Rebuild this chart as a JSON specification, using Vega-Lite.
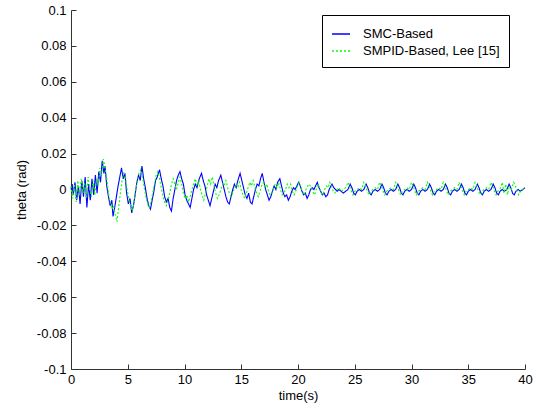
{
"$schema": "https://vega.github.io/schema/vega-lite/v6.json",
"width": 454, "height": 359,
"autosize": {"type": "none"},
"padding": {"left": 71, "top": 10, "right": 11, "bottom": 45},
"background": "white",
"config": {
 "view": {"stroke": null},
 "font": "Liberation Sans",
 "axis": {"domainColor": "#333333", "tickColor": "#333333", "tickSize": -5, "labelFontSize": 13, "titleFontSize": 13, "labelColor": "black", "titleColor": "black", "titleFontWeight": "normal", "grid": false, "labelFont": "Liberation Sans", "titleFont": "Liberation Sans"},
 "legend": {"orient": "none", "legendX": 251, "legendY": 5, "title": null, "padding": 9, "strokeColor": "black", "fillColor": "white", "symbolType": "stroke", "symbolSize": 324, "symbolStrokeWidth": 1.3, "labelFontSize": 13, "labelFont": "Liberation Sans", "labelColor": "black", "labelOffset": 12, "rowPadding": -2}
},
"data": {"values": [
{"t":0,"v":0,"s":"SMC-Based"},{"t":0.1,"v":0.003,"s":"SMC-Based"},{"t":0.2,"v":-0.003,"s":"SMC-Based"},{"t":0.35,"v":0.004,"s":"SMC-Based"},{"t":0.5,"v":-0.006,"s":"SMC-Based"},{"t":0.65,"v":0.002,"s":"SMC-Based"},{"t":0.8,"v":-0.008,"s":"SMC-Based"},{"t":0.95,"v":0.005,"s":"SMC-Based"},{"t":1.1,"v":-0.004,"s":"SMC-Based"},{"t":1.25,"v":0.007,"s":"SMC-Based"},{"t":1.4,"v":-0.01,"s":"SMC-Based"},{"t":1.55,"v":0.003,"s":"SMC-Based"},{"t":1.7,"v":-0.006,"s":"SMC-Based"},{"t":1.85,"v":0.006,"s":"SMC-Based"},{"t":2.0,"v":-0.003,"s":"SMC-Based"},{"t":2.15,"v":0.008,"s":"SMC-Based"},{"t":2.3,"v":-0.002,"s":"SMC-Based"},{"t":2.45,"v":0.01,"s":"SMC-Based"},{"t":2.6,"v":0.004,"s":"SMC-Based"},{"t":2.75,"v":0.016,"s":"SMC-Based"},{"t":2.9,"v":0.009,"s":"SMC-Based"},{"t":3.0,"v":0.013,"s":"SMC-Based"},{"t":3.15,"v":0.002,"s":"SMC-Based"},{"t":3.3,"v":-0.004,"s":"SMC-Based"},{"t":3.45,"v":-0.009,"s":"SMC-Based"},{"t":3.6,"v":-0.006,"s":"SMC-Based"},{"t":3.7,"v":-0.015,"s":"SMC-Based"},{"t":3.85,"v":-0.01,"s":"SMC-Based"},{"t":4.0,"v":-0.004,"s":"SMC-Based"},{"t":4.15,"v":0.002,"s":"SMC-Based"},{"t":4.3,"v":0.007,"s":"SMC-Based"},{"t":4.45,"v":0.012,"s":"SMC-Based"},{"t":4.6,"v":0.006,"s":"SMC-Based"},{"t":4.75,"v":0.009,"s":"SMC-Based"},{"t":4.9,"v":-0.002,"s":"SMC-Based"},{"t":5.05,"v":-0.008,"s":"SMC-Based"},{"t":5.2,"v":-0.005,"s":"SMC-Based"},{"t":5.35,"v":-0.013,"s":"SMC-Based"},{"t":5.5,"v":-0.009,"s":"SMC-Based"},{"t":5.65,"v":-0.003,"s":"SMC-Based"},{"t":5.8,"v":0.004,"s":"SMC-Based"},{"t":5.95,"v":0.008,"s":"SMC-Based"},{"t":6.1,"v":0.005,"s":"SMC-Based"},{"t":6.25,"v":0.013,"s":"SMC-Based"},{"t":6.4,"v":0.006,"s":"SMC-Based"},{"t":6.55,"v":0.001,"s":"SMC-Based"},{"t":6.7,"v":-0.005,"s":"SMC-Based"},{"t":6.85,"v":-0.009,"s":"SMC-Based"},{"t":7.0,"v":-0.011,"s":"SMC-Based"},{"t":7.15,"v":-0.006,"s":"SMC-Based"},{"t":7.3,"v":-0.001,"s":"SMC-Based"},{"t":7.45,"v":0.005,"s":"SMC-Based"},{"t":7.6,"v":0.007,"s":"SMC-Based"},{"t":7.8,"v":0.011,"s":"SMC-Based"},{"t":7.95,"v":0.006,"s":"SMC-Based"},{"t":8.1,"v":0.002,"s":"SMC-Based"},{"t":8.25,"v":-0.004,"s":"SMC-Based"},{"t":8.4,"v":-0.007,"s":"SMC-Based"},{"t":8.55,"v":-0.005,"s":"SMC-Based"},{"t":8.7,"v":-0.01,"s":"SMC-Based"},{"t":8.85,"v":-0.012,"s":"SMC-Based"},{"t":9.0,"v":-0.005,"s":"SMC-Based"},{"t":9.15,"v":0,"s":"SMC-Based"},{"t":9.3,"v":0.005,"s":"SMC-Based"},{"t":9.45,"v":0.008,"s":"SMC-Based"},{"t":9.6,"v":0.01,"s":"SMC-Based"},{"t":9.75,"v":0.006,"s":"SMC-Based"},{"t":9.9,"v":0.003,"s":"SMC-Based"},{"t":10.05,"v":-0.003,"s":"SMC-Based"},{"t":10.2,"v":-0.006,"s":"SMC-Based"},{"t":10.35,"v":-0.008,"s":"SMC-Based"},{"t":10.5,"v":-0.01,"s":"SMC-Based"},{"t":10.65,"v":-0.005,"s":"SMC-Based"},{"t":10.8,"v":0,"s":"SMC-Based"},{"t":10.95,"v":0.003,"s":"SMC-Based"},{"t":11.1,"v":0.001,"s":"SMC-Based"},{"t":11.3,"v":0.006,"s":"SMC-Based"},{"t":11.5,"v":0.009,"s":"SMC-Based"},{"t":11.65,"v":0.005,"s":"SMC-Based"},{"t":11.8,"v":0.002,"s":"SMC-Based"},{"t":11.95,"v":-0.003,"s":"SMC-Based"},{"t":12.1,"v":-0.006,"s":"SMC-Based"},{"t":12.25,"v":-0.009,"s":"SMC-Based"},{"t":12.4,"v":-0.005,"s":"SMC-Based"},{"t":12.55,"v":-0.001,"s":"SMC-Based"},{"t":12.7,"v":0.003,"s":"SMC-Based"},{"t":12.85,"v":0.001,"s":"SMC-Based"},{"t":13.0,"v":0.005,"s":"SMC-Based"},{"t":13.2,"v":0.008,"s":"SMC-Based"},{"t":13.35,"v":0.004,"s":"SMC-Based"},{"t":13.5,"v":0,"s":"SMC-Based"},{"t":13.65,"v":-0.004,"s":"SMC-Based"},{"t":13.8,"v":-0.007,"s":"SMC-Based"},{"t":13.95,"v":-0.008,"s":"SMC-Based"},{"t":14.1,"v":-0.004,"s":"SMC-Based"},{"t":14.25,"v":0,"s":"SMC-Based"},{"t":14.4,"v":0.003,"s":"SMC-Based"},{"t":14.55,"v":0.001,"s":"SMC-Based"},{"t":14.7,"v":0.005,"s":"SMC-Based"},{"t":14.9,"v":0.009,"s":"SMC-Based"},{"t":15.05,"v":0.005,"s":"SMC-Based"},{"t":15.2,"v":0.001,"s":"SMC-Based"},{"t":15.35,"v":-0.003,"s":"SMC-Based"},{"t":15.5,"v":-0.005,"s":"SMC-Based"},{"t":15.65,"v":-0.002,"s":"SMC-Based"},{"t":15.8,"v":-0.007,"s":"SMC-Based"},{"t":15.95,"v":-0.008,"s":"SMC-Based"},{"t":16.1,"v":-0.004,"s":"SMC-Based"},{"t":16.25,"v":0,"s":"SMC-Based"},{"t":16.4,"v":0.003,"s":"SMC-Based"},{"t":16.55,"v":0.002,"s":"SMC-Based"},{"t":16.7,"v":0.006,"s":"SMC-Based"},{"t":16.85,"v":0.009,"s":"SMC-Based"},{"t":17.0,"v":0.004,"s":"SMC-Based"},{"t":17.15,"v":0,"s":"SMC-Based"},{"t":17.3,"v":-0.003,"s":"SMC-Based"},{"t":17.45,"v":-0.006,"s":"SMC-Based"},{"t":17.6,"v":-0.004,"s":"SMC-Based"},{"t":17.75,"v":-0.001,"s":"SMC-Based"},{"t":17.9,"v":0.002,"s":"SMC-Based"},{"t":18.05,"v":0,"s":"SMC-Based"},{"t":18.2,"v":0.004,"s":"SMC-Based"},{"t":18.4,"v":0.006,"s":"SMC-Based"},{"t":18.55,"v":0.002,"s":"SMC-Based"},{"t":18.7,"v":-0.002,"s":"SMC-Based"},{"t":18.85,"v":-0.004,"s":"SMC-Based"},{"t":19.0,"v":-0.003,"s":"SMC-Based"},{"t":19.15,"v":-0.006,"s":"SMC-Based"},{"t":19.3,"v":-0.004,"s":"SMC-Based"},{"t":19.45,"v":-0.001,"s":"SMC-Based"},{"t":19.6,"v":0.001,"s":"SMC-Based"},{"t":19.75,"v":0,"s":"SMC-Based"},{"t":19.9,"v":0.002,"s":"SMC-Based"},{"t":20.05,"v":0.004,"s":"SMC-Based"},{"t":20.2,"v":0.002,"s":"SMC-Based"},{"t":20.35,"v":-0.001,"s":"SMC-Based"},{"t":20.5,"v":-0.003,"s":"SMC-Based"},{"t":20.65,"v":-0.002,"s":"SMC-Based"},{"t":20.8,"v":-0.005,"s":"SMC-Based"},{"t":20.95,"v":-0.003,"s":"SMC-Based"},{"t":21.1,"v":0,"s":"SMC-Based"},{"t":21.25,"v":0.001,"s":"SMC-Based"},{"t":21.4,"v":0,"s":"SMC-Based"},{"t":21.55,"v":0.002,"s":"SMC-Based"},{"t":21.7,"v":0.004,"s":"SMC-Based"},{"t":21.85,"v":0.001,"s":"SMC-Based"},{"t":22.0,"v":-0.001,"s":"SMC-Based"},{"t":22.15,"v":-0.003,"s":"SMC-Based"},{"t":22.3,"v":-0.002,"s":"SMC-Based"},{"t":22.45,"v":-0.004,"s":"SMC-Based"},{"t":22.6,"v":-0.003,"s":"SMC-Based"},{"t":22.75,"v":0,"s":"SMC-Based"},{"t":22.9,"v":0.002,"s":"SMC-Based"},{"t":23.0,"v":0.003,"s":"SMC-Based"},{"t":23.15,"v":0.001,"s":"SMC-Based"},{"t":23.3,"v":0,"s":"SMC-Based"},{"t":23.45,"v":-0.001,"s":"SMC-Based"},{"t":23.6,"v":0,"s":"SMC-Based"},{"t":23.8,"v":-0.001,"s":"SMC-Based"},{"t":24.0,"v":-0.002,"s":"SMC-Based"},{"t":24.2,"v":-0.001,"s":"SMC-Based"},{"t":24.4,"v":0,"s":"SMC-Based"},{"t":24.6,"v":0.003,"s":"SMC-Based"},{"t":24.75,"v":0.001,"s":"SMC-Based"},{"t":24.9,"v":-0.002,"s":"SMC-Based"},{"t":25.05,"v":-0.003,"s":"SMC-Based"},{"t":25.2,"v":-0.001,"s":"SMC-Based"},{"t":25.4,"v":0,"s":"SMC-Based"},{"t":25.6,"v":-0.001,"s":"SMC-Based"},{"t":25.8,"v":0,"s":"SMC-Based"},{"t":26.0,"v":0.003,"s":"SMC-Based"},{"t":26.15,"v":0.001,"s":"SMC-Based"},{"t":26.3,"v":-0.002,"s":"SMC-Based"},{"t":26.45,"v":-0.003,"s":"SMC-Based"},{"t":26.6,"v":-0.001,"s":"SMC-Based"},{"t":26.8,"v":0,"s":"SMC-Based"},{"t":27.0,"v":-0.001,"s":"SMC-Based"},{"t":27.2,"v":0,"s":"SMC-Based"},{"t":27.4,"v":0.003,"s":"SMC-Based"},{"t":27.55,"v":0.001,"s":"SMC-Based"},{"t":27.7,"v":-0.002,"s":"SMC-Based"},{"t":27.85,"v":-0.003,"s":"SMC-Based"},{"t":28.0,"v":-0.001,"s":"SMC-Based"},{"t":28.2,"v":0,"s":"SMC-Based"},{"t":28.4,"v":-0.001,"s":"SMC-Based"},{"t":28.6,"v":0,"s":"SMC-Based"},{"t":28.8,"v":0.003,"s":"SMC-Based"},{"t":28.95,"v":0.001,"s":"SMC-Based"},{"t":29.1,"v":-0.002,"s":"SMC-Based"},{"t":29.25,"v":-0.003,"s":"SMC-Based"},{"t":29.4,"v":-0.001,"s":"SMC-Based"},{"t":29.6,"v":0,"s":"SMC-Based"},{"t":29.8,"v":-0.001,"s":"SMC-Based"},{"t":30.0,"v":0,"s":"SMC-Based"},{"t":30.2,"v":0.003,"s":"SMC-Based"},{"t":30.35,"v":0.001,"s":"SMC-Based"},{"t":30.5,"v":-0.002,"s":"SMC-Based"},{"t":30.65,"v":-0.003,"s":"SMC-Based"},{"t":30.8,"v":-0.001,"s":"SMC-Based"},{"t":31.0,"v":0,"s":"SMC-Based"},{"t":31.2,"v":-0.001,"s":"SMC-Based"},{"t":31.4,"v":0,"s":"SMC-Based"},{"t":31.6,"v":0.003,"s":"SMC-Based"},{"t":31.75,"v":0.001,"s":"SMC-Based"},{"t":31.9,"v":-0.002,"s":"SMC-Based"},{"t":32.05,"v":-0.003,"s":"SMC-Based"},{"t":32.2,"v":-0.001,"s":"SMC-Based"},{"t":32.4,"v":0,"s":"SMC-Based"},{"t":32.6,"v":-0.001,"s":"SMC-Based"},{"t":32.8,"v":0,"s":"SMC-Based"},{"t":33.0,"v":0.003,"s":"SMC-Based"},{"t":33.15,"v":0.001,"s":"SMC-Based"},{"t":33.3,"v":-0.002,"s":"SMC-Based"},{"t":33.45,"v":-0.003,"s":"SMC-Based"},{"t":33.6,"v":-0.001,"s":"SMC-Based"},{"t":33.8,"v":0,"s":"SMC-Based"},{"t":34.0,"v":-0.001,"s":"SMC-Based"},{"t":34.2,"v":0,"s":"SMC-Based"},{"t":34.4,"v":0.003,"s":"SMC-Based"},{"t":34.55,"v":0.001,"s":"SMC-Based"},{"t":34.7,"v":-0.002,"s":"SMC-Based"},{"t":34.85,"v":-0.003,"s":"SMC-Based"},{"t":35.0,"v":-0.001,"s":"SMC-Based"},{"t":35.2,"v":0,"s":"SMC-Based"},{"t":35.4,"v":-0.001,"s":"SMC-Based"},{"t":35.6,"v":0,"s":"SMC-Based"},{"t":35.8,"v":0.003,"s":"SMC-Based"},{"t":35.95,"v":0.001,"s":"SMC-Based"},{"t":36.1,"v":-0.002,"s":"SMC-Based"},{"t":36.25,"v":-0.003,"s":"SMC-Based"},{"t":36.4,"v":-0.001,"s":"SMC-Based"},{"t":36.6,"v":0,"s":"SMC-Based"},{"t":36.8,"v":-0.001,"s":"SMC-Based"},{"t":37.0,"v":0,"s":"SMC-Based"},{"t":37.2,"v":0.003,"s":"SMC-Based"},{"t":37.35,"v":0.001,"s":"SMC-Based"},{"t":37.5,"v":-0.002,"s":"SMC-Based"},{"t":37.65,"v":-0.003,"s":"SMC-Based"},{"t":37.8,"v":-0.001,"s":"SMC-Based"},{"t":38.0,"v":0,"s":"SMC-Based"},{"t":38.2,"v":-0.001,"s":"SMC-Based"},{"t":38.4,"v":0,"s":"SMC-Based"},{"t":38.6,"v":0.003,"s":"SMC-Based"},{"t":38.75,"v":0.001,"s":"SMC-Based"},{"t":38.9,"v":-0.002,"s":"SMC-Based"},{"t":39.05,"v":-0.003,"s":"SMC-Based"},{"t":39.2,"v":-0.001,"s":"SMC-Based"},{"t":39.4,"v":0,"s":"SMC-Based"},{"t":39.6,"v":-0.001,"s":"SMC-Based"},{"t":39.8,"v":0,"s":"SMC-Based"},{"t":40.0,"v":0.001,"s":"SMC-Based"},
{"t":0,"v":0.002,"s":"SMPID-Based, Lee [15]"},{"t":0.15,"v":-0.005,"s":"SMPID-Based, Lee [15]"},{"t":0.3,"v":0.003,"s":"SMPID-Based, Lee [15]"},{"t":0.45,"v":-0.007,"s":"SMPID-Based, Lee [15]"},{"t":0.6,"v":0.005,"s":"SMPID-Based, Lee [15]"},{"t":0.75,"v":-0.003,"s":"SMPID-Based, Lee [15]"},{"t":0.9,"v":0.006,"s":"SMPID-Based, Lee [15]"},{"t":1.05,"v":-0.002,"s":"SMPID-Based, Lee [15]"},{"t":1.2,"v":0.004,"s":"SMPID-Based, Lee [15]"},{"t":1.35,"v":-0.005,"s":"SMPID-Based, Lee [15]"},{"t":1.5,"v":0.007,"s":"SMPID-Based, Lee [15]"},{"t":1.65,"v":0,"s":"SMPID-Based, Lee [15]"},{"t":1.8,"v":-0.004,"s":"SMPID-Based, Lee [15]"},{"t":1.95,"v":0.005,"s":"SMPID-Based, Lee [15]"},{"t":2.1,"v":-0.003,"s":"SMPID-Based, Lee [15]"},{"t":2.25,"v":0.006,"s":"SMPID-Based, Lee [15]"},{"t":2.4,"v":0.002,"s":"SMPID-Based, Lee [15]"},{"t":2.55,"v":0.012,"s":"SMPID-Based, Lee [15]"},{"t":2.7,"v":0.008,"s":"SMPID-Based, Lee [15]"},{"t":2.85,"v":0.017,"s":"SMPID-Based, Lee [15]"},{"t":3.0,"v":0.012,"s":"SMPID-Based, Lee [15]"},{"t":3.15,"v":0.006,"s":"SMPID-Based, Lee [15]"},{"t":3.3,"v":-0.002,"s":"SMPID-Based, Lee [15]"},{"t":3.45,"v":-0.007,"s":"SMPID-Based, Lee [15]"},{"t":3.6,"v":-0.011,"s":"SMPID-Based, Lee [15]"},{"t":3.75,"v":-0.009,"s":"SMPID-Based, Lee [15]"},{"t":3.9,"v":-0.014,"s":"SMPID-Based, Lee [15]"},{"t":4.05,"v":-0.018,"s":"SMPID-Based, Lee [15]"},{"t":4.2,"v":-0.01,"s":"SMPID-Based, Lee [15]"},{"t":4.35,"v":-0.002,"s":"SMPID-Based, Lee [15]"},{"t":4.5,"v":0.005,"s":"SMPID-Based, Lee [15]"},{"t":4.65,"v":0.01,"s":"SMPID-Based, Lee [15]"},{"t":4.8,"v":0.006,"s":"SMPID-Based, Lee [15]"},{"t":4.95,"v":0,"s":"SMPID-Based, Lee [15]"},{"t":5.1,"v":-0.006,"s":"SMPID-Based, Lee [15]"},{"t":5.25,"v":-0.009,"s":"SMPID-Based, Lee [15]"},{"t":5.4,"v":-0.012,"s":"SMPID-Based, Lee [15]"},{"t":5.55,"v":-0.007,"s":"SMPID-Based, Lee [15]"},{"t":5.7,"v":0,"s":"SMPID-Based, Lee [15]"},{"t":5.85,"v":0.005,"s":"SMPID-Based, Lee [15]"},{"t":6.0,"v":0.009,"s":"SMPID-Based, Lee [15]"},{"t":6.15,"v":0.011,"s":"SMPID-Based, Lee [15]"},{"t":6.3,"v":0.007,"s":"SMPID-Based, Lee [15]"},{"t":6.45,"v":0.001,"s":"SMPID-Based, Lee [15]"},{"t":6.6,"v":-0.004,"s":"SMPID-Based, Lee [15]"},{"t":6.75,"v":-0.008,"s":"SMPID-Based, Lee [15]"},{"t":6.9,"v":-0.01,"s":"SMPID-Based, Lee [15]"},{"t":7.05,"v":-0.007,"s":"SMPID-Based, Lee [15]"},{"t":7.2,"v":-0.002,"s":"SMPID-Based, Lee [15]"},{"t":7.35,"v":0.003,"s":"SMPID-Based, Lee [15]"},{"t":7.5,"v":0.008,"s":"SMPID-Based, Lee [15]"},{"t":7.65,"v":0.01,"s":"SMPID-Based, Lee [15]"},{"t":7.8,"v":0.006,"s":"SMPID-Based, Lee [15]"},{"t":7.95,"v":0.001,"s":"SMPID-Based, Lee [15]"},{"t":8.1,"v":-0.004,"s":"SMPID-Based, Lee [15]"},{"t":8.25,"v":-0.007,"s":"SMPID-Based, Lee [15]"},{"t":8.4,"v":-0.009,"s":"SMPID-Based, Lee [15]"},{"t":8.55,"v":-0.006,"s":"SMPID-Based, Lee [15]"},{"t":8.7,"v":-0.002,"s":"SMPID-Based, Lee [15]"},{"t":8.85,"v":0.003,"s":"SMPID-Based, Lee [15]"},{"t":9.0,"v":0.006,"s":"SMPID-Based, Lee [15]"},{"t":9.15,"v":0.003,"s":"SMPID-Based, Lee [15]"},{"t":9.3,"v":0,"s":"SMPID-Based, Lee [15]"},{"t":9.45,"v":0.004,"s":"SMPID-Based, Lee [15]"},{"t":9.6,"v":0.007,"s":"SMPID-Based, Lee [15]"},{"t":9.75,"v":0.003,"s":"SMPID-Based, Lee [15]"},{"t":9.9,"v":-0.002,"s":"SMPID-Based, Lee [15]"},{"t":10.05,"v":-0.005,"s":"SMPID-Based, Lee [15]"},{"t":10.2,"v":-0.003,"s":"SMPID-Based, Lee [15]"},{"t":10.35,"v":-0.007,"s":"SMPID-Based, Lee [15]"},{"t":10.5,"v":-0.004,"s":"SMPID-Based, Lee [15]"},{"t":10.65,"v":0,"s":"SMPID-Based, Lee [15]"},{"t":10.8,"v":0.003,"s":"SMPID-Based, Lee [15]"},{"t":10.95,"v":0.006,"s":"SMPID-Based, Lee [15]"},{"t":11.1,"v":0.002,"s":"SMPID-Based, Lee [15]"},{"t":11.25,"v":0.005,"s":"SMPID-Based, Lee [15]"},{"t":11.4,"v":0,"s":"SMPID-Based, Lee [15]"},{"t":11.55,"v":-0.003,"s":"SMPID-Based, Lee [15]"},{"t":11.7,"v":-0.006,"s":"SMPID-Based, Lee [15]"},{"t":11.85,"v":-0.002,"s":"SMPID-Based, Lee [15]"},{"t":12.0,"v":0.002,"s":"SMPID-Based, Lee [15]"},{"t":12.15,"v":0.006,"s":"SMPID-Based, Lee [15]"},{"t":12.3,"v":0.003,"s":"SMPID-Based, Lee [15]"},{"t":12.45,"v":0.007,"s":"SMPID-Based, Lee [15]"},{"t":12.6,"v":0.002,"s":"SMPID-Based, Lee [15]"},{"t":12.75,"v":-0.002,"s":"SMPID-Based, Lee [15]"},{"t":12.9,"v":-0.005,"s":"SMPID-Based, Lee [15]"},{"t":13.05,"v":-0.003,"s":"SMPID-Based, Lee [15]"},{"t":13.2,"v":0,"s":"SMPID-Based, Lee [15]"},{"t":13.35,"v":0.003,"s":"SMPID-Based, Lee [15]"},{"t":13.5,"v":0.002,"s":"SMPID-Based, Lee [15]"},{"t":13.65,"v":0.005,"s":"SMPID-Based, Lee [15]"},{"t":13.8,"v":0.001,"s":"SMPID-Based, Lee [15]"},{"t":13.95,"v":-0.002,"s":"SMPID-Based, Lee [15]"},{"t":14.1,"v":-0.004,"s":"SMPID-Based, Lee [15]"},{"t":14.25,"v":-0.002,"s":"SMPID-Based, Lee [15]"},{"t":14.4,"v":0.001,"s":"SMPID-Based, Lee [15]"},{"t":14.55,"v":0.003,"s":"SMPID-Based, Lee [15]"},{"t":14.7,"v":0.001,"s":"SMPID-Based, Lee [15]"},{"t":14.85,"v":0.004,"s":"SMPID-Based, Lee [15]"},{"t":15.0,"v":0,"s":"SMPID-Based, Lee [15]"},{"t":15.15,"v":-0.003,"s":"SMPID-Based, Lee [15]"},{"t":15.3,"v":-0.005,"s":"SMPID-Based, Lee [15]"},{"t":15.45,"v":-0.002,"s":"SMPID-Based, Lee [15]"},{"t":15.6,"v":0.001,"s":"SMPID-Based, Lee [15]"},{"t":15.75,"v":0.004,"s":"SMPID-Based, Lee [15]"},{"t":15.9,"v":0.002,"s":"SMPID-Based, Lee [15]"},{"t":16.05,"v":0.005,"s":"SMPID-Based, Lee [15]"},{"t":16.2,"v":0.001,"s":"SMPID-Based, Lee [15]"},{"t":16.35,"v":-0.002,"s":"SMPID-Based, Lee [15]"},{"t":16.5,"v":-0.004,"s":"SMPID-Based, Lee [15]"},{"t":16.65,"v":-0.001,"s":"SMPID-Based, Lee [15]"},{"t":16.8,"v":0.002,"s":"SMPID-Based, Lee [15]"},{"t":16.95,"v":0.004,"s":"SMPID-Based, Lee [15]"},{"t":17.1,"v":0.001,"s":"SMPID-Based, Lee [15]"},{"t":17.25,"v":0.003,"s":"SMPID-Based, Lee [15]"},{"t":17.4,"v":-0.001,"s":"SMPID-Based, Lee [15]"},{"t":17.55,"v":-0.003,"s":"SMPID-Based, Lee [15]"},{"t":17.7,"v":-0.002,"s":"SMPID-Based, Lee [15]"},{"t":17.85,"v":0.001,"s":"SMPID-Based, Lee [15]"},{"t":18.0,"v":0.003,"s":"SMPID-Based, Lee [15]"},{"t":18.15,"v":0.001,"s":"SMPID-Based, Lee [15]"},{"t":18.3,"v":0.004,"s":"SMPID-Based, Lee [15]"},{"t":18.45,"v":0,"s":"SMPID-Based, Lee [15]"},{"t":18.6,"v":-0.003,"s":"SMPID-Based, Lee [15]"},{"t":18.75,"v":-0.002,"s":"SMPID-Based, Lee [15]"},{"t":18.9,"v":0,"s":"SMPID-Based, Lee [15]"},{"t":19.05,"v":0.003,"s":"SMPID-Based, Lee [15]"},{"t":19.2,"v":0.001,"s":"SMPID-Based, Lee [15]"},{"t":19.35,"v":0.003,"s":"SMPID-Based, Lee [15]"},{"t":19.5,"v":-0.001,"s":"SMPID-Based, Lee [15]"},{"t":19.65,"v":-0.003,"s":"SMPID-Based, Lee [15]"},{"t":19.8,"v":-0.001,"s":"SMPID-Based, Lee [15]"},{"t":19.95,"v":0.002,"s":"SMPID-Based, Lee [15]"},{"t":20.1,"v":0.004,"s":"SMPID-Based, Lee [15]"},{"t":20.25,"v":0.001,"s":"SMPID-Based, Lee [15]"},{"t":20.4,"v":-0.001,"s":"SMPID-Based, Lee [15]"},{"t":20.55,"v":-0.003,"s":"SMPID-Based, Lee [15]"},{"t":20.7,"v":0,"s":"SMPID-Based, Lee [15]"},{"t":20.85,"v":0.002,"s":"SMPID-Based, Lee [15]"},{"t":21.0,"v":0.003,"s":"SMPID-Based, Lee [15]"},{"t":21.15,"v":0.001,"s":"SMPID-Based, Lee [15]"},{"t":21.3,"v":-0.001,"s":"SMPID-Based, Lee [15]"},{"t":21.45,"v":-0.003,"s":"SMPID-Based, Lee [15]"},{"t":21.6,"v":0,"s":"SMPID-Based, Lee [15]"},{"t":21.75,"v":0.003,"s":"SMPID-Based, Lee [15]"},{"t":21.9,"v":0.001,"s":"SMPID-Based, Lee [15]"},{"t":22.05,"v":-0.002,"s":"SMPID-Based, Lee [15]"},{"t":22.2,"v":-0.003,"s":"SMPID-Based, Lee [15]"},{"t":22.35,"v":0,"s":"SMPID-Based, Lee [15]"},{"t":22.5,"v":0.002,"s":"SMPID-Based, Lee [15]"},{"t":22.65,"v":0.001,"s":"SMPID-Based, Lee [15]"},{"t":22.8,"v":0.004,"s":"SMPID-Based, Lee [15]"},{"t":22.95,"v":0.002,"s":"SMPID-Based, Lee [15]"},{"t":23.1,"v":-0.001,"s":"SMPID-Based, Lee [15]"},{"t":23.25,"v":-0.002,"s":"SMPID-Based, Lee [15]"},{"t":23.4,"v":0,"s":"SMPID-Based, Lee [15]"},{"t":23.6,"v":0.001,"s":"SMPID-Based, Lee [15]"},{"t":23.8,"v":-0.001,"s":"SMPID-Based, Lee [15]"},{"t":24.0,"v":0,"s":"SMPID-Based, Lee [15]"},{"t":24.2,"v":0.001,"s":"SMPID-Based, Lee [15]"},{"t":24.4,"v":0.004,"s":"SMPID-Based, Lee [15]"},{"t":24.55,"v":0.002,"s":"SMPID-Based, Lee [15]"},{"t":24.7,"v":-0.001,"s":"SMPID-Based, Lee [15]"},{"t":24.85,"v":-0.003,"s":"SMPID-Based, Lee [15]"},{"t":25.0,"v":-0.001,"s":"SMPID-Based, Lee [15]"},{"t":25.2,"v":0,"s":"SMPID-Based, Lee [15]"},{"t":25.4,"v":0.001,"s":"SMPID-Based, Lee [15]"},{"t":25.6,"v":0,"s":"SMPID-Based, Lee [15]"},{"t":25.8,"v":0.004,"s":"SMPID-Based, Lee [15]"},{"t":25.95,"v":0.002,"s":"SMPID-Based, Lee [15]"},{"t":26.1,"v":-0.001,"s":"SMPID-Based, Lee [15]"},{"t":26.25,"v":-0.003,"s":"SMPID-Based, Lee [15]"},{"t":26.4,"v":-0.001,"s":"SMPID-Based, Lee [15]"},{"t":26.6,"v":0,"s":"SMPID-Based, Lee [15]"},{"t":26.8,"v":0.001,"s":"SMPID-Based, Lee [15]"},{"t":27.0,"v":0,"s":"SMPID-Based, Lee [15]"},{"t":27.2,"v":0.004,"s":"SMPID-Based, Lee [15]"},{"t":27.35,"v":0.002,"s":"SMPID-Based, Lee [15]"},{"t":27.5,"v":-0.001,"s":"SMPID-Based, Lee [15]"},{"t":27.65,"v":-0.003,"s":"SMPID-Based, Lee [15]"},{"t":27.8,"v":-0.001,"s":"SMPID-Based, Lee [15]"},{"t":28.0,"v":0,"s":"SMPID-Based, Lee [15]"},{"t":28.2,"v":0.001,"s":"SMPID-Based, Lee [15]"},{"t":28.4,"v":0,"s":"SMPID-Based, Lee [15]"},{"t":28.6,"v":0.004,"s":"SMPID-Based, Lee [15]"},{"t":28.75,"v":0.002,"s":"SMPID-Based, Lee [15]"},{"t":28.9,"v":-0.001,"s":"SMPID-Based, Lee [15]"},{"t":29.05,"v":-0.003,"s":"SMPID-Based, Lee [15]"},{"t":29.2,"v":-0.001,"s":"SMPID-Based, Lee [15]"},{"t":29.4,"v":0,"s":"SMPID-Based, Lee [15]"},{"t":29.6,"v":0.001,"s":"SMPID-Based, Lee [15]"},{"t":29.8,"v":0,"s":"SMPID-Based, Lee [15]"},{"t":30.0,"v":0.004,"s":"SMPID-Based, Lee [15]"},{"t":30.15,"v":0.002,"s":"SMPID-Based, Lee [15]"},{"t":30.3,"v":-0.001,"s":"SMPID-Based, Lee [15]"},{"t":30.45,"v":-0.003,"s":"SMPID-Based, Lee [15]"},{"t":30.6,"v":-0.001,"s":"SMPID-Based, Lee [15]"},{"t":30.8,"v":0,"s":"SMPID-Based, Lee [15]"},{"t":31.0,"v":0.001,"s":"SMPID-Based, Lee [15]"},{"t":31.2,"v":0,"s":"SMPID-Based, Lee [15]"},{"t":31.4,"v":0.004,"s":"SMPID-Based, Lee [15]"},{"t":31.55,"v":0.002,"s":"SMPID-Based, Lee [15]"},{"t":31.7,"v":-0.001,"s":"SMPID-Based, Lee [15]"},{"t":31.85,"v":-0.003,"s":"SMPID-Based, Lee [15]"},{"t":32.0,"v":-0.001,"s":"SMPID-Based, Lee [15]"},{"t":32.2,"v":0,"s":"SMPID-Based, Lee [15]"},{"t":32.4,"v":0.001,"s":"SMPID-Based, Lee [15]"},{"t":32.6,"v":0,"s":"SMPID-Based, Lee [15]"},{"t":32.8,"v":0.004,"s":"SMPID-Based, Lee [15]"},{"t":32.95,"v":0.002,"s":"SMPID-Based, Lee [15]"},{"t":33.1,"v":-0.001,"s":"SMPID-Based, Lee [15]"},{"t":33.25,"v":-0.003,"s":"SMPID-Based, Lee [15]"},{"t":33.4,"v":-0.001,"s":"SMPID-Based, Lee [15]"},{"t":33.6,"v":0,"s":"SMPID-Based, Lee [15]"},{"t":33.8,"v":0.001,"s":"SMPID-Based, Lee [15]"},{"t":34.0,"v":0,"s":"SMPID-Based, Lee [15]"},{"t":34.2,"v":0.004,"s":"SMPID-Based, Lee [15]"},{"t":34.35,"v":0.002,"s":"SMPID-Based, Lee [15]"},{"t":34.5,"v":-0.001,"s":"SMPID-Based, Lee [15]"},{"t":34.65,"v":-0.003,"s":"SMPID-Based, Lee [15]"},{"t":34.8,"v":-0.001,"s":"SMPID-Based, Lee [15]"},{"t":35.0,"v":0,"s":"SMPID-Based, Lee [15]"},{"t":35.2,"v":0.001,"s":"SMPID-Based, Lee [15]"},{"t":35.4,"v":0,"s":"SMPID-Based, Lee [15]"},{"t":35.6,"v":0.004,"s":"SMPID-Based, Lee [15]"},{"t":35.75,"v":0.002,"s":"SMPID-Based, Lee [15]"},{"t":35.9,"v":-0.001,"s":"SMPID-Based, Lee [15]"},{"t":36.05,"v":-0.003,"s":"SMPID-Based, Lee [15]"},{"t":36.2,"v":-0.001,"s":"SMPID-Based, Lee [15]"},{"t":36.4,"v":0,"s":"SMPID-Based, Lee [15]"},{"t":36.6,"v":0.001,"s":"SMPID-Based, Lee [15]"},{"t":36.8,"v":0,"s":"SMPID-Based, Lee [15]"},{"t":37.0,"v":0.004,"s":"SMPID-Based, Lee [15]"},{"t":37.15,"v":0.002,"s":"SMPID-Based, Lee [15]"},{"t":37.3,"v":-0.001,"s":"SMPID-Based, Lee [15]"},{"t":37.45,"v":-0.003,"s":"SMPID-Based, Lee [15]"},{"t":37.6,"v":-0.001,"s":"SMPID-Based, Lee [15]"},{"t":37.8,"v":0,"s":"SMPID-Based, Lee [15]"},{"t":38.0,"v":0.004,"s":"SMPID-Based, Lee [15]"},{"t":38.15,"v":-0.002,"s":"SMPID-Based, Lee [15]"},{"t":38.3,"v":0.003,"s":"SMPID-Based, Lee [15]"},{"t":38.45,"v":-0.003,"s":"SMPID-Based, Lee [15]"},{"t":38.6,"v":0.001,"s":"SMPID-Based, Lee [15]"},{"t":38.8,"v":0,"s":"SMPID-Based, Lee [15]"},{"t":39.0,"v":0.004,"s":"SMPID-Based, Lee [15]"},{"t":39.15,"v":0.002,"s":"SMPID-Based, Lee [15]"},{"t":39.3,"v":-0.001,"s":"SMPID-Based, Lee [15]"},{"t":39.45,"v":-0.003,"s":"SMPID-Based, Lee [15]"},{"t":39.6,"v":-0.001,"s":"SMPID-Based, Lee [15]"},{"t":39.8,"v":0,"s":"SMPID-Based, Lee [15]"},{"t":40.0,"v":0.001,"s":"SMPID-Based, Lee [15]"}
]},
"mark": {"type": "line", "strokeWidth": 1.1},
"encoding": {
 "x": {"field": "t", "type": "quantitative", "scale": {"domain": [0, 40], "nice": false, "zero": false}, "axis": {"title": "time(s)", "values": [0, 5, 10, 15, 20, 25, 30, 35, 40], "labelPadding": 9, "titlePadding": 3, "labelFlush": false}},
 "y": {"field": "v", "type": "quantitative", "scale": {"domain": [-0.1, 0.1], "nice": false, "zero": false}, "axis": {"title": "theta (rad)", "values": [-0.1, -0.08, -0.06, -0.04, -0.02, 0, 0.02, 0.04, 0.06, 0.08, 0.1], "labelExpr": "'' + datum.value", "labelPadding": 10, "titlePadding": 8, "labelFlush": false}},
 "color": {"field": "s", "type": "nominal", "scale": {"domain": ["SMC-Based", "SMPID-Based, Lee [15]"], "range": ["#0000ff", "#00ff00"]}, "legend": {"title": null}},
 "strokeDash": {"field": "s", "type": "nominal", "scale": {"domain": ["SMC-Based", "SMPID-Based, Lee [15]"], "range": [[1, 0], [2, 2]]}, "legend": {"title": null}}
}
}
